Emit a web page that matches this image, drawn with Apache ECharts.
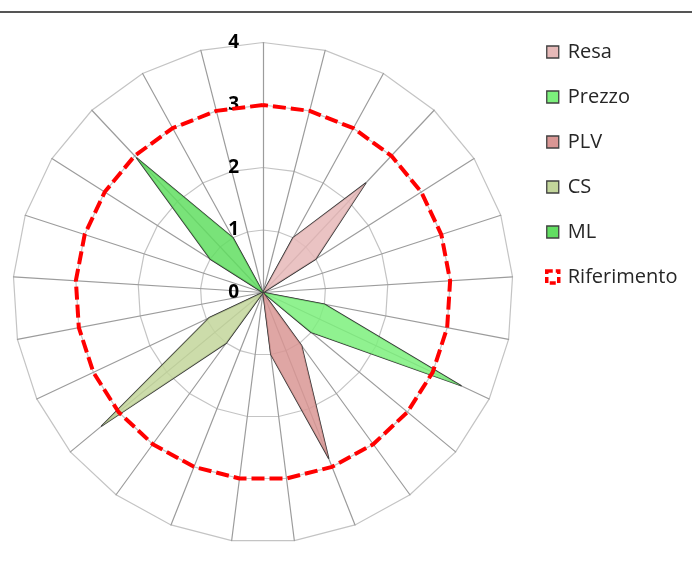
<!DOCTYPE html>
<html>
<head>
<meta charset="utf-8">
<script src="https://cdn.jsdelivr.net/npm/echarts@6/dist/echarts.min.js"></script>
<style>
  html, body { margin: 0; padding: 0; background: #fff; }
  #chart { width: 692px; height: 561px; }
</style>
</head>
<body>
<div id="chart"></div>
<script>
// 25 spokes, listed clockwise from the top (as in the original spreadsheet)
var categories = ['', '', '', '', '', '', '', '', '', '', '', '', '', '', '', '', '', '', '', '', '', '', '', '', ''];
var tickLabels = ['0', '1', '2', '3', '4'];

var resa        = [0, 0, 1, 2.4, 1, 0, 0, 0, 0, 0, 0, 0, 0, 0, 0, 0, 0, 0, 0, 0, 0, 0, 0, 0, 0];
var prezzo      = [0, 0, 0, 0, 0, 0, 0, 1, 3.5, 1, 0, 0, 0, 0, 0, 0, 0, 0, 0, 0, 0, 0, 0, 0, 0];
var plv         = [0, 0, 0, 0, 0, 0, 0, 0, 0, 0, 1.05, 2.85, 1, 0, 0, 0, 0, 0, 0, 0, 0, 0, 0, 0, 0];
var cs          = [0, 0, 0, 0, 0, 0, 0, 0, 0, 0, 0, 0, 0, 0, 0, 1, 3.35, 0.95, 0, 0, 0, 0, 0, 0, 0];
var ml          = [0, 0, 0, 0, 0, 0, 0, 0, 0, 0, 0, 0, 0, 0, 0, 0, 0, 0, 0, 0, 0, 1, 2.95, 1, 0];
var riferimento = [3, 3, 3, 3, 3, 3, 3, 3, 3, 3, 3, 3, 3, 3, 3, 3, 3, 3, 3, 3, 3, 3, 3, 3, 3];

var N = categories.length;
// echarts lays indicators out counter-clockwise, so flip the order
function toRadar(arr) {
  var out = [];
  for (var j = 0; j < N; j++) out.push(arr[(N - j) % N]);
  return out;
}

var indicators = [];
for (var j = 0; j < N; j++) {
  var ind = { name: categories[(N - j) % N], min: 0, max: 4 };
  if (j === 0) {
    // only the top spoke carries the scale
    ind.axisLabel = {
      show: true,
      color: '#000',
      fontSize: 19,
      fontWeight: 'bold',
      fontFamily: 'Open Sans',
      margin: 24,
      formatter: function (v) { return tickLabels[Math.round(v)] || ''; }
    };
  }
  indicators.push(ind);
}

var outline = { color: '#333333', width: 1.5 };

function star(name, data, fill) {
  return {
    name: name,
    type: 'radar',
    symbol: 'none',
    silent: true,
    itemStyle: { color: fill, borderColor: '#404040', borderWidth: 1 },
    lineStyle: outline,
    areaStyle: { color: fill, opacity: 0.85 },
    data: [{ value: toRadar(data), name: name }]
  };
}

var myChart = echarts.init(document.getElementById('chart'));

var option = {
  animation: false,
  backgroundColor: '#fff',
  textStyle: { fontFamily: 'Open Sans' },
  graphic: [{
    type: 'line',
    shape: { x1: 0, y1: 12, x2: 692, y2: 12 },
    style: { stroke: '#555', lineWidth: 2 }
  }],
  legend: {
    orient: 'vertical',
    left: 540,
    top: 36,
    itemWidth: 12,
    itemHeight: 12,
    itemGap: 23,
    textStyle: { fontSize: 20, color: '#262626', fontFamily: 'Open Sans', lineHeight: 22, padding: [0, 0, 0, 4] },
    data: [
      { name: 'Resa', icon: 'rect', itemStyle: { color: '#E6B9B8', borderColor: '#404040', borderWidth: 1.3 } },
      { name: 'Prezzo', icon: 'rect', itemStyle: { color: '#7CF07C', borderColor: '#404040', borderWidth: 1.3 } },
      { name: 'PLV', icon: 'rect', itemStyle: { color: '#D99694', borderColor: '#404040', borderWidth: 1.3 } },
      { name: 'CS', icon: 'rect', itemStyle: { color: '#C3D69B', borderColor: '#404040', borderWidth: 1.3 } },
      { name: 'ML', icon: 'rect', itemStyle: { color: '#62DE62', borderColor: '#404040', borderWidth: 1.3 } },
      { name: 'Riferimento', icon: 'rect', itemStyle: { color: '#fff', borderColor: '#FF0000', borderWidth: 3.5, borderType: [6, 3] } }
    ]
  },
  radar: {
    center: [263, 292.5],
    radius: 250,
    startAngle: 90,
    splitNumber: 4,
    shape: 'polygon',
    indicator: indicators,
    axisName: { show: false },
    splitArea: { show: false },
    splitLine: { lineStyle: { color: '#C4C4C4', width: 1.2 } },
    axisLine: { lineStyle: { color: '#9C9C9C', width: 1.2 } },
    axisTick: { show: false },
    axisLabel: { show: false }
  },
  series: [
    star('Resa', resa, '#E6B9B8'),
    star('Prezzo', prezzo, '#7CF07C'),
    star('PLV', plv, '#D99694'),
    star('CS', cs, '#C3D69B'),
    star('ML', ml, '#62DE62'),
    {
      name: 'Riferimento',
      type: 'radar',
      symbol: 'none',
      silent: true,
      itemStyle: { color: '#FF0000' },
      lineStyle: { color: '#FF0000', width: 4, type: [13, 5] },
      data: [{ value: toRadar(riferimento), name: 'Riferimento' }]
    }
  ]
};

option && myChart.setOption(option);
</script>
</body>
</html>
